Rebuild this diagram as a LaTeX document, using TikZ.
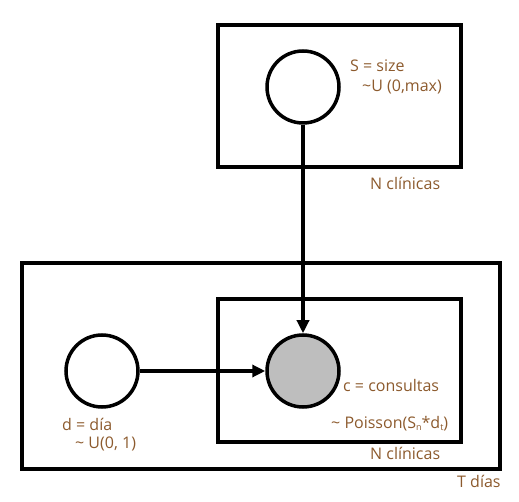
\documentclass[tikz,border=0pt]{standalone}
\usepackage{fontspec}
\setmainfont{Open Sans}
\usetikzlibrary{arrows.meta}
\definecolor{lbl}{RGB}{140,90,45}
\definecolor{cfill}{RGB}{190,190,190}
\newcommand{\smallsub}[1]{\raisebox{-2pt}{\fontsize{9}{10}\selectfont #1}}
\begin{document}
\begin{tikzpicture}[x=1pt,y=-1pt,
  plate/.style={draw=black,line width=3.5pt},
  var/.style={circle,draw=black,line width=3.5pt,minimum size=72pt,inner sep=0pt,fill=white},
  lab/.style={text=lbl,font=\fontsize{16}{19}\selectfont,inner sep=0pt,anchor=base west},
  conn/.style={line width=3.5pt,-{Triangle[length=13pt,width=12pt]}}]
\useasboundingbox (0,0) rectangle (519,502);
\draw[plate] (218,25) rectangle (461,167);
\draw[plate] (22,263) rectangle (500,469);
\draw[plate] (218,299) rectangle (461,442);
\node[var] (S) at (303,87) {};
\node[var,fill=cfill] (c) at (303,371) {};
\node[var] (d) at (102,371) {};
\draw[conn] (S) -- (c);
\draw[conn] (d) -- (c);
\node[lab] (t1) at (350,72) {S = size};
\node[lab] (t2) at (362,92) {\textasciitilde U (0,max)};
\node[lab] (t3) at (370,190) {N clínicas};
\node[lab] (t4) at (343,391) {c = consultas};
\node[lab] (t5) at (331,428) {\textasciitilde{} Poisson(S\smallsub{n}*d\smallsub{t})};
\node[lab] (t6) at (370,459) {N clínicas};
\node[lab] (t7) at (457,487) {T días};
\node[lab] (t8) at (62,430) {d = día};
\node[lab] (t9) at (75,448) {\textasciitilde{} U(0, 1)};
\end{tikzpicture}
\end{document}
